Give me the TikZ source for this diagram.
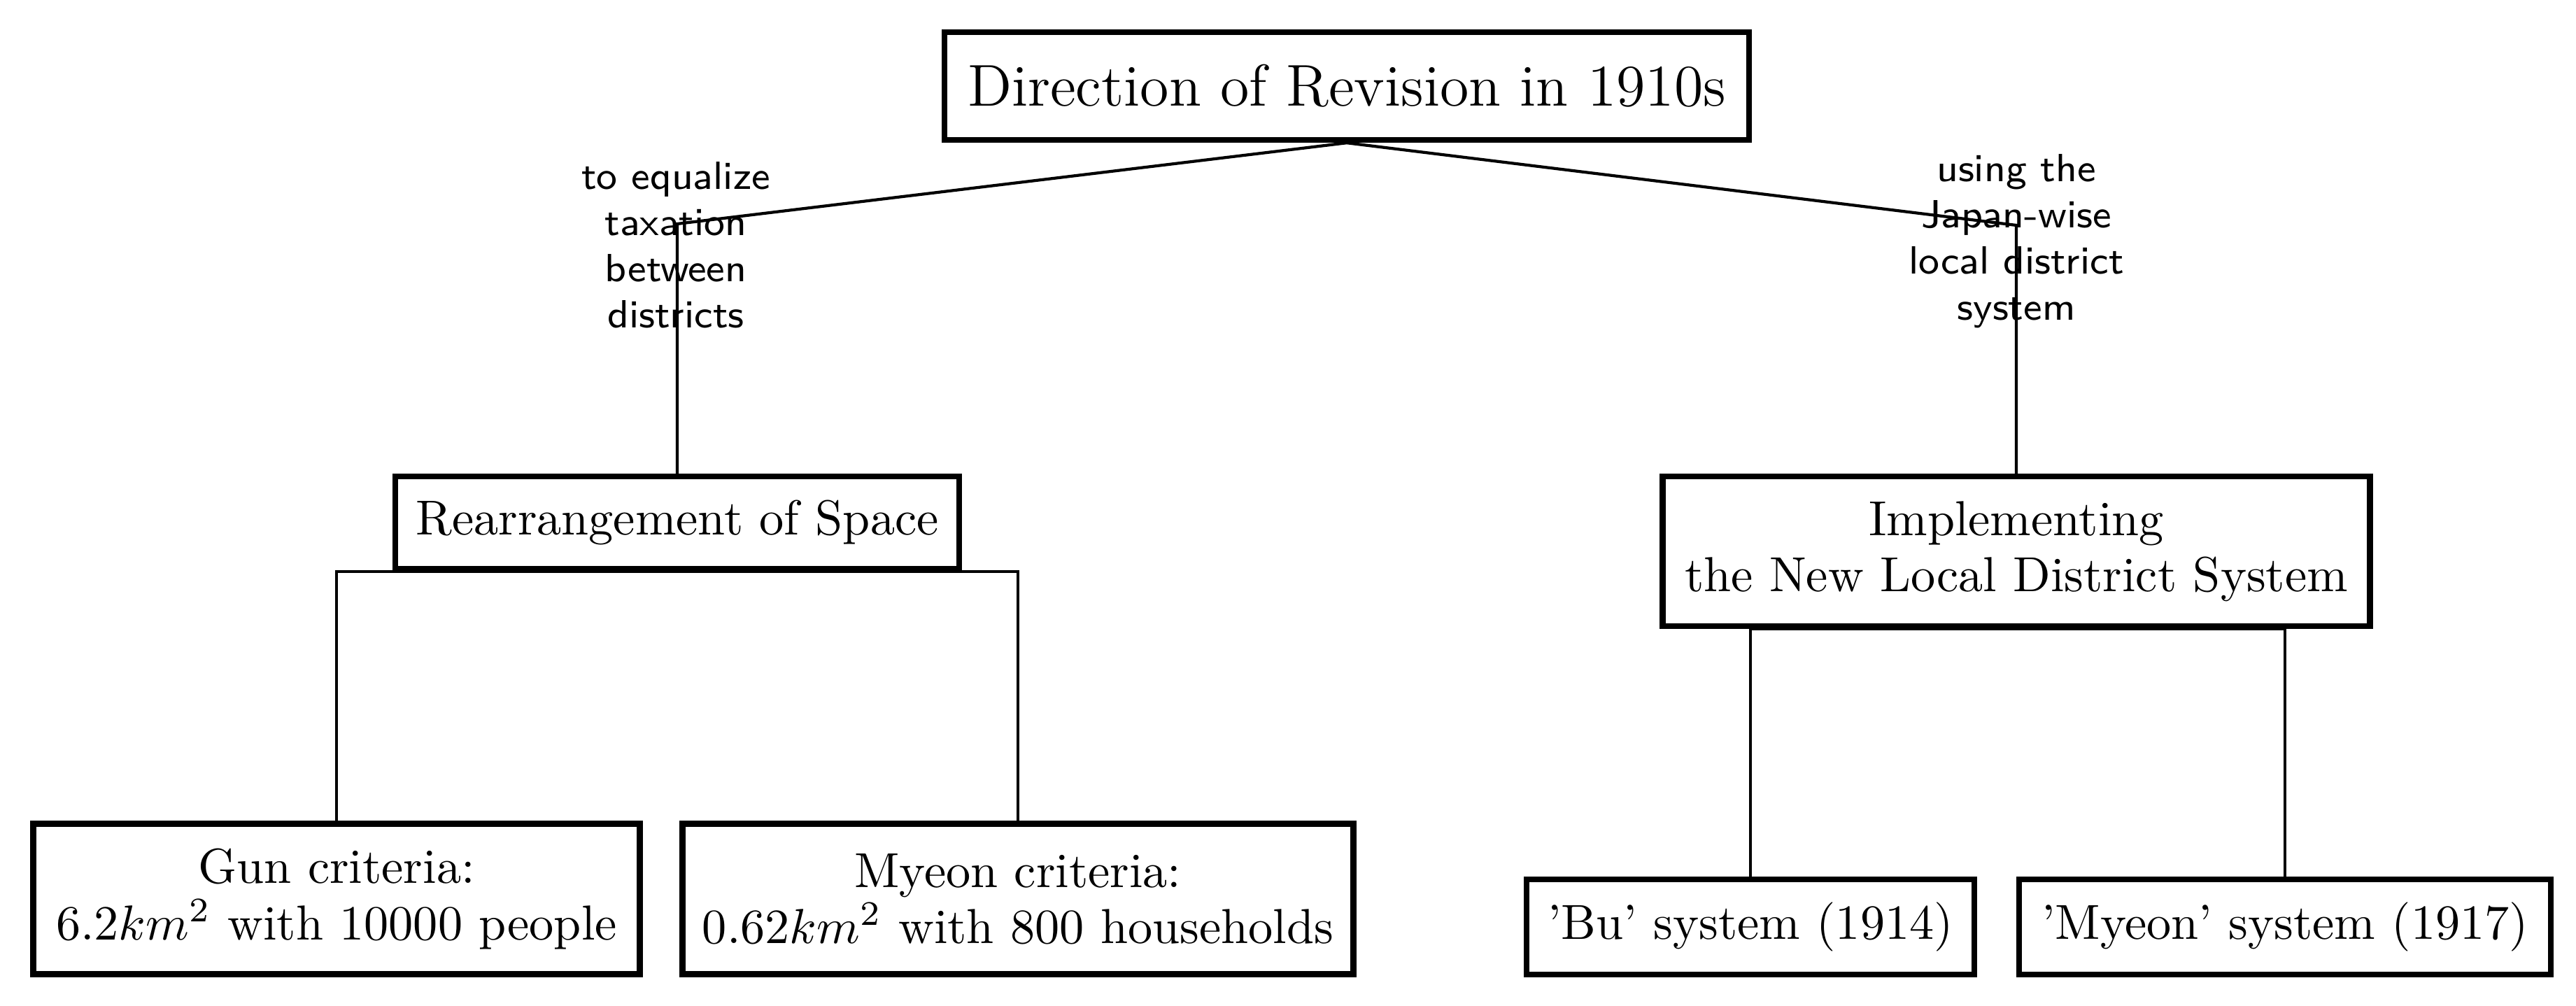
\documentclass[tikz,border=0pt]{standalone}
\usepackage{amssymb}
\usepackage{tikz}

\begin{document}
\begin{tikzpicture}[
    box/.style={draw, very thick, align=center, font=\fontsize{10}{11.4}\selectfont},
    lbl/.style={align=center, font=\fontsize{8}{9.4}\selectfont\sffamily}]
                        \useasboundingbox (0, 0) rectangle (18.41, -7.19);

                        \node[box, font=\large, minimum width=5.75cm, minimum height=0.77cm] (dir) at (9.625, -0.615) {Direction of Revision in 1910s};
                        \node[box, minimum width=4.03cm, minimum height=0.66cm] (rearr) at (4.84, -3.735) {Rearrangement of Space};
                        \node[box, minimum width=5.055cm, minimum height=1.07cm] (impl) at (14.41, -3.94) {Implementing\\the New Local District System};
                        \node[box, minimum width=4.335cm, minimum height=1.075cm] (gun) at (2.405, -6.425) {Gun criteria:\\$6.2km^2$ with 10000 people};
                        \node[box, minimum width=4.795cm, minimum height=1.075cm] (myeon) at (7.275, -6.425) {Myeon criteria:\\$0.62km^2$ with 800 households};
                        \node[box, minimum width=3.2cm, minimum height=0.68cm] (bu) at (12.51, -6.625) {'Bu' system (1914)};
                        \node[box, minimum width=3.8cm, minimum height=0.68cm] (myeonsys) at (16.33, -6.625) {'Myeon' system (1917)};

                        % bends of the two upper branches
                        \coordinate (lbend) at (4.84, -1.6);
                        \coordinate (rbend) at (14.41, -1.61);
                        \node[lbl] (taxlbl) at (4.83, -1.75) {to equalize\\taxation\\between\\districts};
                        \node[lbl] (japlbl) at (14.41, -1.725) {using the\\Japan-wise\\local district\\system};

                        \draw[semithick] (dir.south) -- (lbend) -- (rearr.north);
                        \draw[semithick] (dir.south) -- (rbend) -- (impl.north);
                        \draw[semithick] (rearr.south) -| (gun.north);
                        \draw[semithick] (rearr.south) -| (myeon.north);
                        \draw[semithick] (impl.south) -| (bu.north);
                        \draw[semithick] (impl.south) -| (myeonsys.north);
                    \end{tikzpicture}
\end{document}
